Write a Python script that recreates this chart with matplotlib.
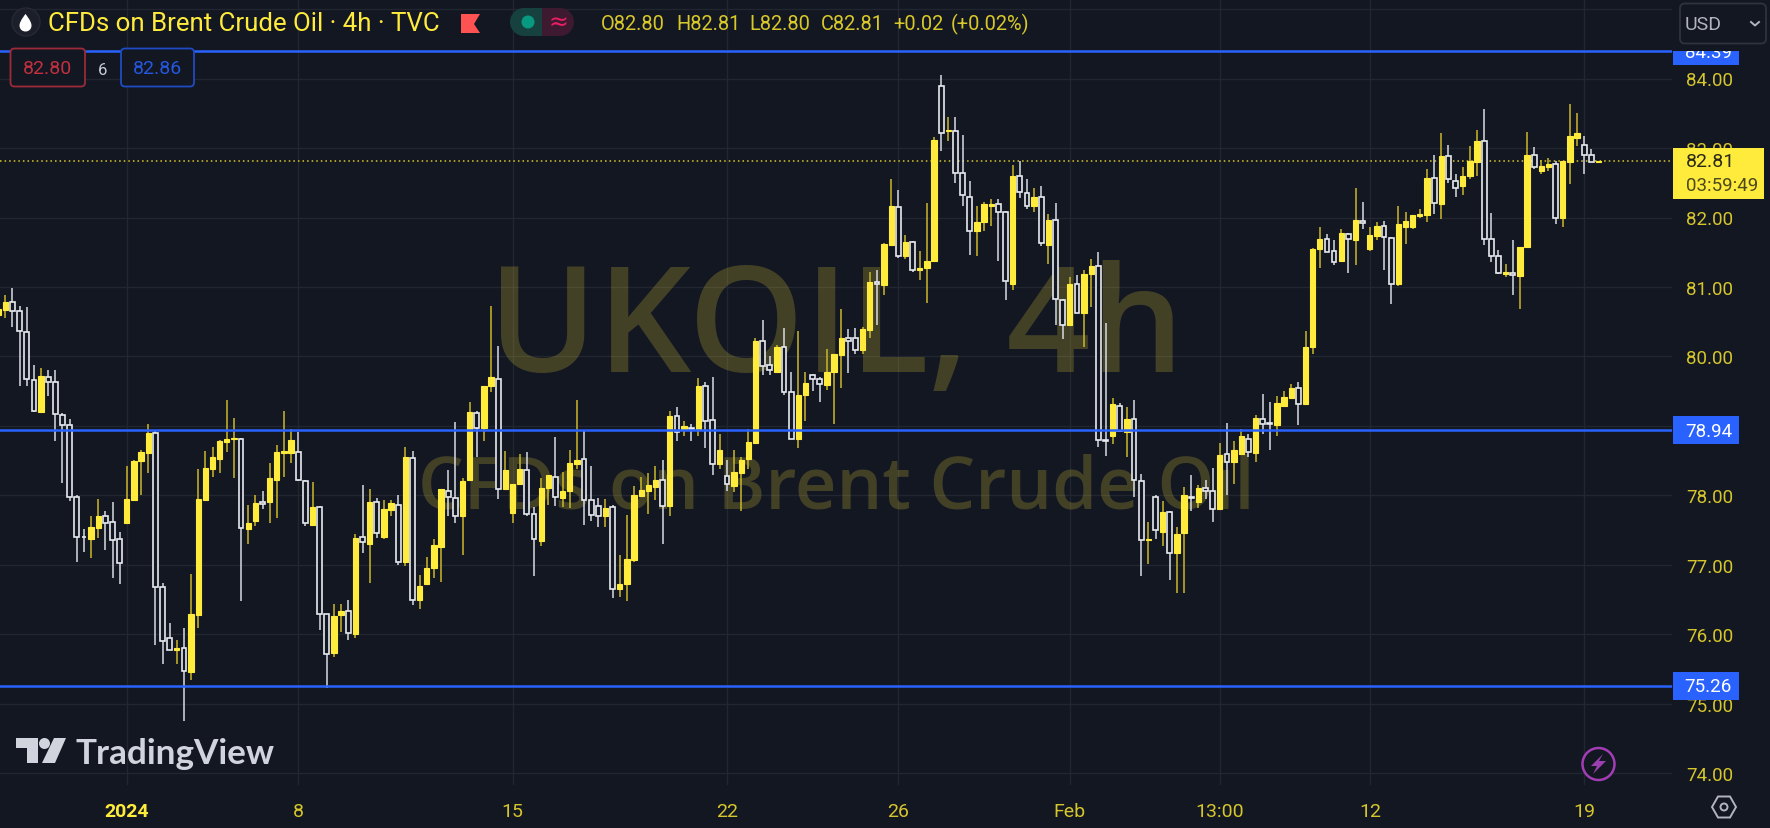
import matplotlib
matplotlib.use("Agg")
import matplotlib.pyplot as plt
from matplotlib.patches import Rectangle, FancyBboxPatch, Circle, Polygon, PathPatch
from matplotlib.path import Path
from matplotlib.transforms import Bbox

# 4h candles
opens = [80.59, 80.67, 80.78, 80.65, 80.35, 79.66, 79.20, 79.71, 79.64, 79.16, 79.02, 77.98, 77.41, 77.38, 77.53,
         77.70, 77.62, 77.37, 77.61, 77.93, 78.49, 78.61, 78.90, 76.68, 75.95, 75.78, 75.80, 75.46, 76.28, 77.93,
         78.38, 78.53, 78.77, 78.81, 78.82, 77.52, 77.63, 77.91, 77.90, 78.23, 78.61, 78.61, 78.62, 78.21, 77.58,
         77.83, 76.29, 75.74, 76.28, 76.34, 76.00, 77.40, 77.30, 77.90, 77.41, 77.79, 77.86, 77.04, 78.54, 76.49,
         76.73, 76.95, 77.26, 78.07, 77.96, 77.70, 78.22, 79.19, 78.97, 79.57, 79.68, 78.09, 77.75, 78.16, 78.37,
         77.74, 77.34, 78.11, 78.26, 77.97, 78.07, 78.46, 78.52, 77.93, 77.85, 77.70, 77.83, 76.65, 76.72, 77.07,
         77.99, 78.07, 78.12, 78.22, 77.85, 79.14, 78.94, 78.97, 78.94, 79.58, 79.08, 78.46, 78.28, 78.14, 78.33,
         78.52, 78.76, 80.22, 79.88, 79.78, 80.14, 79.49, 78.81, 79.44, 79.73, 79.68, 79.59, 79.78, 80.02, 80.27,
         80.26, 80.10, 80.38, 81.07, 81.03, 81.61, 82.15, 81.44, 81.65, 81.25, 81.27, 81.37, 83.89, 83.24, 83.24,
         82.64, 82.30, 81.81, 81.93, 82.17, 82.19, 82.08, 81.05, 82.60, 82.35, 82.17, 82.30, 81.61, 81.97, 80.81,
         80.46, 81.04, 80.62, 81.18, 81.30, 78.80, 78.85, 79.29, 78.92, 79.10, 78.21, 77.36, 77.98, 77.47, 77.76,
         77.17, 77.46, 77.98, 77.91, 78.11, 78.07, 77.80, 78.59, 78.48, 78.59, 78.81, 78.61, 79.10, 79.05, 79.02,
         79.29, 79.40, 79.55, 79.31, 80.13, 81.55, 81.69, 81.52, 81.38, 81.76, 81.68, 81.95, 81.54, 81.73, 81.88,
         81.71, 81.04, 81.87, 81.86, 82.02, 82.04, 82.57, 82.20, 82.88, 82.52, 82.45, 82.59, 82.80, 83.10, 81.69,
         81.45, 81.19, 81.20, 81.16, 81.57, 82.90, 82.67, 82.72, 82.77, 82.00, 82.80, 83.15, 83.05, 82.90, 82.80]
highs = [80.72, 80.88, 80.99, 80.72, 80.71, 79.88, 79.83, 79.80, 79.80, 79.18, 79.10, 78.00, 77.52, 77.71, 77.95,
         77.78, 77.91, 77.47, 78.43, 78.51, 78.66, 79.03, 78.94, 76.74, 76.16, 75.92, 76.09, 76.87, 78.38, 78.64,
         78.70, 78.80, 79.37, 79.11, 78.83, 77.87, 78.01, 78.06, 78.47, 78.72, 79.22, 78.96, 78.91, 78.23, 78.19,
         77.85, 76.30, 76.44, 76.44, 76.50, 77.44, 78.15, 78.10, 77.97, 77.93, 77.93, 78.00, 78.70, 78.64, 76.85,
         77.11, 77.37, 78.10, 78.37, 79.06, 78.25, 79.35, 79.22, 79.57, 80.72, 80.15, 78.64, 78.17, 78.60, 78.62,
         77.84, 78.25, 78.29, 78.84, 78.34, 78.66, 79.37, 78.94, 78.43, 77.97, 77.95, 77.86, 77.15, 77.72, 78.13,
         78.26, 78.33, 78.42, 78.51, 79.22, 79.27, 79.07, 79.03, 79.69, 79.64, 79.70, 78.88, 78.51, 78.66, 78.56,
         78.96, 80.26, 80.52, 80.01, 80.17, 80.41, 79.77, 80.37, 79.78, 79.75, 79.70, 80.11, 80.03, 80.69, 80.39,
         80.41, 80.43, 81.21, 81.25, 81.64, 82.55, 82.40, 81.75, 81.66, 81.52, 82.21, 83.16, 84.05, 83.45, 83.45,
         83.19, 82.53, 82.16, 82.23, 82.27, 82.27, 82.10, 82.75, 82.81, 82.55, 82.42, 82.46, 82.05, 82.21, 80.83,
         81.15, 81.17, 81.24, 81.41, 81.51, 80.48, 79.40, 79.33, 79.27, 79.38, 78.31, 77.62, 78.00, 77.92, 77.77,
         77.54, 78.12, 78.29, 78.15, 78.23, 78.40, 78.76, 79.05, 78.79, 78.96, 78.88, 79.16, 79.46, 79.35, 79.43,
         79.51, 79.60, 79.63, 80.37, 81.56, 81.86, 81.76, 81.68, 81.83, 81.77, 82.42, 82.22, 81.86, 81.94, 81.95,
         81.72, 82.16, 82.08, 82.04, 82.12, 82.70, 82.90, 83.21, 83.05, 82.62, 82.72, 83.03, 83.26, 83.56, 82.07,
         81.53, 81.33, 81.68, 81.57, 83.23, 83.02, 82.83, 82.85, 82.81, 82.82, 83.63, 83.50, 83.17, 82.99, 82.81]
lows = [80.56, 80.56, 80.43, 79.57, 79.57, 79.20, 79.20, 79.43, 78.78, 78.18, 77.92, 77.05, 77.18, 77.10, 77.39,
        77.21, 76.81, 76.72, 77.61, 77.93, 78.01, 78.32, 75.85, 75.57, 75.77, 75.57, 74.76, 75.35, 76.10, 77.93,
        78.27, 78.32, 78.62, 78.25, 76.48, 77.30, 77.56, 77.81, 77.61, 77.67, 78.27, 78.47, 78.21, 77.56, 77.58,
        76.07, 75.23, 75.68, 76.04, 75.92, 75.95, 77.17, 76.74, 77.39, 77.37, 77.71, 77.00, 76.98, 76.43, 76.37,
        76.71, 76.81, 76.76, 77.71, 77.60, 77.15, 78.22, 78.55, 78.79, 79.49, 77.95, 78.09, 77.61, 78.16, 77.70,
        76.84, 77.27, 77.86, 77.85, 77.84, 77.82, 78.38, 77.58, 77.64, 77.54, 77.54, 76.52, 76.54, 76.48, 77.05,
        77.99, 77.73, 77.93, 77.30, 77.71, 78.78, 78.85, 78.78, 78.86, 78.68, 78.29, 78.38, 78.07, 78.05, 77.78,
        78.38, 78.76, 79.73, 79.73, 79.76, 79.45, 78.81, 78.68, 79.07, 79.50, 79.35, 79.52, 79.03, 79.54, 79.76,
        80.03, 80.04, 80.26, 80.46, 80.88, 81.61, 81.42, 81.40, 81.21, 81.10, 80.77, 81.37, 82.95, 83.10, 82.49,
        82.16, 81.46, 81.44, 81.81, 81.88, 81.38, 80.81, 80.95, 82.28, 82.12, 82.08, 81.59, 81.33, 80.45, 80.25,
        80.46, 80.62, 80.13, 80.71, 78.70, 78.57, 78.74, 78.92, 78.56, 77.98, 76.84, 77.02, 77.37, 77.28, 76.79,
        76.60, 76.60, 77.78, 77.82, 77.95, 77.62, 77.80, 78.01, 78.16, 78.59, 78.56, 78.48, 78.88, 78.66, 78.86,
        79.29, 79.39, 79.01, 79.31, 80.04, 81.28, 81.50, 81.32, 81.38, 81.20, 81.32, 81.83, 81.52, 81.68, 81.25,
        80.75, 81.01, 81.62, 81.84, 82.00, 81.94, 82.05, 81.98, 82.50, 82.30, 82.33, 82.55, 82.59, 81.61, 81.36,
        81.18, 81.14, 80.88, 80.69, 81.57, 82.70, 82.63, 82.67, 81.90, 81.87, 82.48, 83.03, 82.63, 82.80, 82.80]
closes = [80.68, 80.78, 80.65, 80.36, 79.68, 79.22, 79.72, 79.64, 79.17, 79.02, 77.98, 77.40, 77.40, 77.54, 77.71,
          77.61, 77.36, 77.03, 77.95, 78.49, 78.62, 78.90, 76.69, 75.91, 75.78, 75.81, 75.48, 76.29, 77.95, 78.40,
          78.55, 78.79, 78.82, 78.83, 77.53, 77.61, 77.89, 77.88, 78.25, 78.62, 78.64, 78.80, 78.22, 77.60, 77.84,
          76.29, 75.72, 76.27, 76.34, 76.02, 77.39, 77.33, 77.91, 77.46, 77.80, 77.89, 77.05, 78.55, 76.49, 76.70,
          76.96, 77.29, 78.09, 77.98, 77.70, 78.21, 79.20, 78.97, 79.57, 79.70, 78.09, 78.36, 78.17, 78.38, 77.73,
          77.37, 78.11, 78.29, 77.98, 78.07, 78.47, 78.51, 77.94, 77.72, 77.71, 77.82, 76.66, 76.72, 77.09, 78.00,
          78.08, 78.15, 78.23, 77.85, 79.14, 78.91, 79.00, 78.95, 79.57, 79.07, 78.46, 78.66, 78.16, 78.34, 78.51,
          78.77, 80.23, 79.86, 79.81, 80.13, 79.49, 78.81, 79.44, 79.62, 79.67, 79.60, 79.77, 80.03, 80.27, 80.23,
          80.10, 80.39, 81.07, 81.04, 81.62, 82.17, 81.44, 81.65, 81.25, 81.28, 81.37, 83.11, 83.22, 83.26, 82.64,
          82.32, 81.80, 81.93, 82.19, 82.19, 82.08, 81.08, 82.60, 82.36, 82.17, 82.30, 81.63, 81.96, 80.83, 80.46,
          81.04, 80.63, 81.19, 81.30, 78.80, 78.78, 79.31, 78.93, 79.10, 78.23, 77.36, 77.38, 77.50, 77.76, 77.17,
          77.45, 78.00, 77.96, 78.11, 78.07, 77.80, 78.58, 78.48, 78.66, 78.85, 78.62, 79.11, 79.03, 79.03, 79.33,
          79.42, 79.55, 79.32, 80.13, 81.55, 81.69, 81.51, 81.36, 81.77, 81.69, 81.97, 81.92, 81.75, 81.88, 81.72,
          81.05, 81.90, 81.95, 82.03, 82.05, 82.57, 82.21, 82.89, 82.56, 82.43, 82.60, 82.81, 83.10, 81.69, 81.44,
          81.20, 81.21, 81.17, 81.57, 82.90, 82.73, 82.74, 82.77, 82.00, 82.81, 83.17, 83.22, 82.90, 82.80, 82.81]

# the three drawn levels and the last price
levels = [84.39, 78.94, 75.26]
level_labels = ["84.39", "78.94", "75.26"]
last_price = 82.81
countdown = "03:59:49"

price_ticks = [74, 75, 76, 77, 78, 79, 80, 81, 82, 83, 84, 85]
date_ticks = [18, 42, 72, 102, 126, 150, 171, 192, 222]
date_labels = ["2024", "8", "15", "22", "26", "Feb", "13:00", "12", "19"]

W, H = 1770, 829
BG = "#131722"
GRID = "#222631"
YEL = "#ffeb3b"
AXT = "#d6c62c"
BLUE = "#2962ff"
FONT = "Roboto"

fig = plt.figure(figsize=(W / 100, H / 100), dpi=100, facecolor=BG)
pane_w = 1672
pane_h = 786
ax = fig.add_axes([0, (H - pane_h) / H, pane_w / W, pane_h / H], facecolor=BG)

px_per_bar = 7.144
ax.set_xlim(1.8 / px_per_bar, (pane_w + 1.8) / px_per_bar)
ax.set_ylim(84 - (pane_h - 79.5) / 69.5, 84 + 79.5 / 69.5)

for s in ax.spines.values():
    s.set_visible(False)
ax.set_xticks(date_ticks)
ax.set_xticklabels(date_labels, fontsize=14, color=AXT, family=FONT)
ax.xaxis.get_ticklabels()[0].set_fontweight("bold")
ax.xaxis.get_ticklabels()[0].set_color(YEL)
ax.yaxis.tick_right()
ax.set_yticks(price_ticks)
ax.set_yticklabels(["%.2f" % p for p in price_ticks], fontsize=13.5, color=AXT, family=FONT)
# 85.00 sits behind the currency box in the picture
ax.yaxis.get_ticklabels()[-1].set_visible(False)
ax.tick_params(axis="both", length=0)
ax.tick_params(axis="x", pad=12)
ax.tick_params(axis="y", pad=10)
ax.grid(True, color=GRID, lw=1)
ax.set_axisbelow(True)

# watermark
mid = (1.8 + 836) / px_per_bar
ax.text(mid, 84 - (372 - 79.5) / 69.5, "UKOIL, 4h", color=YEL, alpha=0.2, fontsize=106, fontweight="semibold",
        family="Open Sans", ha="center", va="baseline", zorder=1)
ax.text(mid, 84 - (509 - 79.5) / 69.5, "CFDs on Brent Crude Oil", color=YEL, alpha=0.2, fontsize=52, fontweight="semibold",
        family="Open Sans", ha="center", va="baseline", zorder=1)

# candles
idx = list(range(len(opens)))
up = [i for i in idx if closes[i] >= opens[i]]
dn = [i for i in idx if closes[i] < opens[i]]
ax.vlines(up, [lows[i] for i in up], [highs[i] for i in up], color="#cbb82a", lw=1.1, zorder=3)
ax.vlines(dn, [lows[i] for i in dn], [highs[i] for i in dn], color="#d8dbe3", lw=1.1, zorder=3)
ax.bar(up, [closes[i] - opens[i] for i in up], bottom=[opens[i] for i in up], width=0.74,
       color=YEL, edgecolor=YEL, lw=0.8, zorder=4)
ax.bar(dn, [opens[i] - closes[i] for i in dn], bottom=[closes[i] for i in dn], width=0.66,
       color=BG, edgecolor="#e8eaf0", lw=1.2, zorder=4)

for lv in levels:
    ax.axhline(lv, color=BLUE, lw=1.8, zorder=5)
ax.axhline(last_price, color="#d9c82a", lw=1.1, ls=(0, (1, 2)), zorder=2)

# interface parts, in pixels on a second axes
ui = fig.add_axes([0, 0, 1, 1], facecolor="none")
ui.set_xlim(0, W)
ui.set_ylim(H, 0)
ui.axis("off")


def price_y(p):
    return 79.5 + (84 - p) * 69.5


# the top tag is cut off by the header row
top_edge = 52
for lv, lab in zip(levels, level_labels):
    y = price_y(lv)
    y0 = max(y - 13.7, top_edge)
    ui.add_patch(Rectangle((1672.5, y0), 66.5, y + 13.7 - y0, fc=BLUE, ec="none", zorder=6))
    t = ui.text(1732, y + 0.5, lab, color="white", fontsize=13.5, family=FONT, ha="right", va="center", zorder=7)
    t.set_clip_box(Bbox([[1672, 0], [1742, H - top_edge]]))
    t.set_clip_on(True)

y = price_y(last_price)
ui.add_patch(Rectangle((1672.5, 149), 91.5, 50.5, fc=YEL, ec="none", zorder=6))
ui.text(1686, y, "%.2f" % last_price, color="#2a2a14", fontsize=14, family=FONT, va="center", zorder=7)
ui.text(1686, 186, countdown, color="#4c4a1c", fontsize=13.5, family=FONT, va="center", zorder=7)

# header
ui.add_patch(Circle((26, 23), 14, fc="#1c1f2a", ec="#262a35", lw=1))
drop = [(25.5, 15), (25.5, 15), (19.5, 22), (19.5, 26.5), (19.5, 30), (22, 32.5), (25.5, 32.5),
        (29, 32.5), (31.5, 30), (31.5, 26.5), (31.5, 22), (25.5, 15), (25.5, 15)]
ui.add_patch(PathPatch(Path(drop, [Path.MOVETO] + [Path.CURVE4] * 12), fc="white", ec="none"))
ui.text(48, 24, "CFDs on Brent Crude Oil · 4h · TVC", color=YEL, fontsize=18.6, family=FONT, va="center")
ui.add_patch(Polygon([(461, 15), (480, 15), (474, 25), (480, 34), (461, 34)], fc="#ff5252", ec="none"))
ui.add_patch(Circle((524, 23), 14, fc="#17413f", ec="none"))
ui.add_patch(Rectangle((524, 9), 18, 28, fc="#17413f", ec="none"))
ui.add_patch(Circle((560, 23), 14, fc="#3d1a30", ec="none"))
ui.add_patch(Rectangle((542, 9), 18, 28, fc="#3d1a30", ec="none"))
ui.add_patch(Circle((528, 23), 6.5, fc="#089981", ec="none"))
ui.text(558, 23, "≈", color="#e91e63", fontsize=17, family="DejaVu Sans", ha="center", va="center")
ohlc = [("O82.80", 601), ("H82.81", 676), ("L82.80", 749), ("C82.81", 821), ("+0.02", 893), ("(+0.02%)", 951)]
for s, x in ohlc:
    ui.text(x, 24, s, color="#d9c82a", fontsize=14.4, family=FONT, va="center")

# spread box
ui.add_patch(FancyBboxPatch((10.5, 49.5), 74.5, 38, boxstyle="round,pad=0,rounding_size=4", fc=BG, ec="#9c2a38", lw=1.3, zorder=8))
ui.text(47.5, 69, "82.80", color="#c2303f", fontsize=14, family=FONT, ha="center", va="center", zorder=9)
ui.text(103, 70, "6", color="#c8cbd3", fontsize=12, family=FONT, ha="center", va="center", zorder=9)
ui.add_patch(FancyBboxPatch((121, 49.5), 73, 38, boxstyle="round,pad=0,rounding_size=4", fc=BG, ec="#1f4bc4", lw=1.3, zorder=8))
ui.text(157.5, 69, "82.86", color="#2458e0", fontsize=14, family=FONT, ha="center", va="center", zorder=9)

# currency box
ui.add_patch(FancyBboxPatch((1680, 4.5), 86, 40, boxstyle="round,pad=0,rounding_size=5", fc=BG, ec="#2f333e", lw=1.3))
ui.text(1685, 25, "USD", color="#b2b5be", fontsize=14, family=FONT, va="center")
ui.plot([1751, 1755, 1759], [23, 26.5, 23], color="#b2b5be", lw=1.4)

# logo
ui.add_patch(Polygon([(16, 739), (38, 739), (38, 764), (27, 764), (27, 749), (16, 749)], fc="#d1d4dc", ec="none"))
ui.add_patch(Circle((44.5, 744.5), 5.5, fc="#d1d4dc", ec="none"))
ui.add_patch(Polygon([(54, 739), (66, 739), (55, 764), (42, 764)], fc="#d1d4dc", ec="none"))
ui.text(75, 764, "TradingView", color="#d1d4dc", fontsize=25.3, family="Lato", fontweight="bold", va="baseline")

# lightning and settings
ui.add_patch(Circle((1598.5, 765), 16, fc=BG, ec="#a23db5", lw=1.8))
ui.add_patch(Polygon([(1603, 755), (1591, 767), (1597, 767), (1593, 775), (1606, 762), (1599, 762)], fc="#9c3fb0", ec="none"))
ui.add_patch(Polygon([(1712, 808), (1718, 797.5), (1730, 797.5), (1736, 808), (1730, 818.5), (1718, 818.5)],
                     fc=BG, ec="#b2b5be", lw=1.4))
ui.add_patch(Circle((1724, 808), 3.5, fc=BG, ec="#b2b5be", lw=1.4))

fig.savefig("out.png", dpi=100, facecolor=BG)
